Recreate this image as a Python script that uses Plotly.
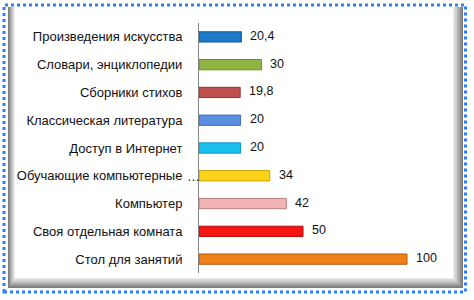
import plotly.graph_objects as go

# Survey results: share of respondents (%) per item
categories = [
    "Произведения искусства",
    "Словари, энциклопедии",
    "Сборники стихов",
    "Классическая литература",
    "Доступ в Интернет",
    "Обучающие компьютерные…",
    "Компьютер",
    "Своя отдельная комната",
    "Стол для занятий",
]
values = [20.4, 30, 19.8, 20, 20, 34, 42, 50, 100]
bar_colors = ["#1f78c8", "#8fb441", "#c0504d", "#5b8ee0", "#1cc0ee",
              "#ffd21a", "#f0b4b4", "#f51414", "#f0801a"]
edge_colors = ["#125a99", "#6a8a2a", "#8e3432", "#3f6db3", "#0f93bb",
               "#c9a200", "#b88080", "#b80a0a", "#b85a0a"]
value_labels = [f"{v:g}".replace(".", ",") for v in values]

FONT = "Liberation Sans, Arial"
W, H = 474, 300
ML, MR, MT, MB = 199, 24, 23, 27
PW, PH = W - ML - MR, H - MT - MB


def px(x):
    return (x - ML) / PW


def py(y):
    return (H - MB - y) / PH


fig = go.Figure(go.Bar(
    x=values,
    y=categories,
    orientation="h",
    marker=dict(color=bar_colors, line=dict(color=edge_colors, width=1)),
    width=0.37,
    hoverinfo="skip",
))

for cat, v, lab in zip(categories, values, value_labels):
    fig.add_annotation(x=v, y=cat, text=lab, showarrow=False,
                       xanchor="left", xshift=7, yshift=1,
                       font=dict(family=FONT, size=12.5, color="#111"))

# truncated category names: the ellipsis hangs past the label column
tick_text = []
for cat in categories:
    if cat.endswith("…"):
        tick_text.append(cat[:-1])
        fig.add_annotation(xref="paper", x=px(185), y=cat, text="…", showarrow=False,
                           xanchor="left", yshift=-1,
                           font=dict(family=FONT, size=13, color="#111"))
    else:
        tick_text.append(cat)

shapes = []
# soft grey frame around the white card
greys = ["#7c7c7c", "#909090", "#a4a4a4", "#b8b8b8", "#cacaca", "#dbdbdb", "#ebebeb"]
for i, g in enumerate(greys):
    shapes.append(dict(type="rect", xref="paper", yref="paper", layer="below",
                       x0=px(8 + i), x1=px(463 - i * 1.5),
                       y0=py(288 - i * 1.5), y1=py(7),
                       fillcolor=g, line=dict(width=0)))
shapes.append(dict(type="rect", xref="paper", yref="paper", layer="below",
                   x0=px(15), x1=px(453), y0=py(278), y1=py(7),
                   fillcolor="white", line=dict(width=0)))
# dotted blue outer border
shapes.append(dict(type="rect", xref="paper", yref="paper", layer="above",
                   x0=px(4), x1=px(465.5), y0=py(292), y1=py(5),
                   line=dict(color="#2a7fff", width=3, dash="dot")))

fig.update_layout(
    width=W, height=H,
    margin=dict(l=ML, r=MR, t=MT, b=MB, autoexpand=False),
    paper_bgcolor="white",
    plot_bgcolor="rgba(0,0,0,0)",
    showlegend=False,
    shapes=shapes,
    font=dict(family=FONT, size=12, color="#111"),
    xaxis=dict(range=[0, PW / 2.08], visible=False, showgrid=False, zeroline=False,
               automargin=False),
    yaxis=dict(autorange="reversed", showline=True, linecolor="#868686", linewidth=1,
               ticks="", showgrid=False, zeroline=False, ticklabelstandoff=13,
               automargin=False, tickvals=categories, ticktext=tick_text,
               tickfont=dict(family=FONT, size=13, color="#111")),
)

fig.write_html("out.html")
